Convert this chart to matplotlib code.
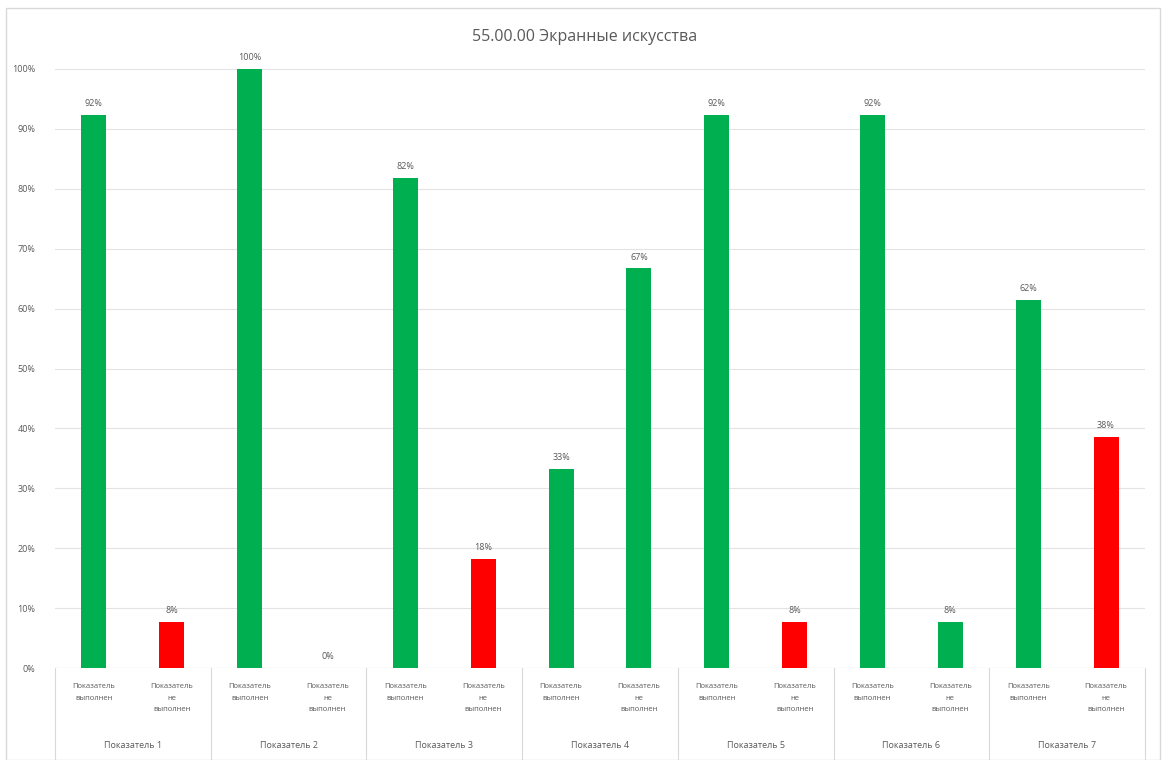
import matplotlib
matplotlib.use("Agg")
import matplotlib.pyplot as plt
from matplotlib.lines import Line2D
from matplotlib.patches import Rectangle
import numpy as np

plt.rcParams['font.family'] = ['Open Sans', 'DejaVu Sans']

title = "55.00.00 Экранные искусства"
groups = ["Показатель 1", "Показатель 2", "Показатель 3", "Показатель 4",
          "Показатель 5", "Показатель 6", "Показатель 7"]
subcats = ["Показатель\nвыполнен", "Показатель\nне\nвыполнен"]
values = [0.923, 0.077, 1.00, 0.00, 0.818, 0.182, 0.333, 0.667,
          0.923, 0.077, 0.923, 0.077, 0.615, 0.385]
labels = ["92%", "8%", "100%", "0%", "82%", "18%", "33%", "67%",
          "92%", "8%", "92%", "8%", "62%", "38%"]
GREEN = "#00B050"
RED = "#FF0000"
colors = [GREEN, RED, GREEN, RED, GREEN, RED, GREEN, GREEN,
          GREEN, RED, GREEN, GREEN, GREEN, RED]
yticks = [0, 0.1, 0.2, 0.3, 0.4, 0.5, 0.6, 0.7, 0.8, 0.9, 1.0]
ytick_labels = ["0%", "10%", "20%", "30%", "40%", "50%", "60%", "70%", "80%", "90%", "100%"]

W, H = 1163, 760
fig = plt.figure(figsize=(W / 100, H / 100), dpi=100)
fig.patch.set_facecolor("white")

# outer chart border
fig.add_artist(Rectangle((6 / W, 0), (1160 - 6) / W, (H - 8) / H,
                         transform=fig.transFigure, fill=False,
                         edgecolor="#d9d9d9", linewidth=1))

left, right, top_px, bot_px = 55, 1145, 69, 668
ax = fig.add_axes([left / W, (H - bot_px) / H, (right - left) / W, (bot_px - top_px) / H])

n = len(values)
x = np.arange(n)
ax.bar(x, values, width=0.32, color=colors, zorder=3)
ax.set_xlim(-0.5, n - 0.5)
ax.set_ylim(0, 1.0)
ax.set_yticks(yticks)
ax.set_yticklabels(ytick_labels)
ax.yaxis.grid(True, color="#e3e3e3", linewidth=0.8, zorder=0)
ax.tick_params(axis="y", length=0, labelsize=6.5, labelcolor="#595959", pad=14)
ax.set_xticks([])
for s in ax.spines.values():
    s.set_visible(False)
ax.axhline(0, color="#d9d9d9", linewidth=0.8, zorder=2)

for xi, v, lab in zip(x, values, labels):
    ax.annotate(lab, (xi, v), xytext=(0, 5), textcoords="offset points",
                ha="center", va="bottom", fontsize=6.5, color="#595959")

ax_h = bot_px - top_px
xt = ax.get_xaxis_transform()
for i in range(n):
    ax.text(x[i], -(683 - bot_px) / ax_h, subcats[i % 2], transform=xt,
            ha="center", va="top", fontsize=5.5, color="#595959",
            linespacing=1.9, clip_on=False)
for g, name in enumerate(groups):
    ax.text(2 * g + 0.5, -(745 - bot_px) / ax_h, name, transform=xt,
            ha="center", va="center", fontsize=6.5, color="#595959", clip_on=False)

for b in range(len(groups) + 1):
    xb = 2 * b - 0.5
    ax.add_line(Line2D([xb, xb], [0, -(H - bot_px) / ax_h], transform=xt,
                       color="#d9d9d9", linewidth=0.8, clip_on=False))

fig.text(585 / W, 1 - 37 / H, title, ha="center", va="center",
         fontsize=11.5, color="#595959")

fig.savefig("out.png", dpi=100)
